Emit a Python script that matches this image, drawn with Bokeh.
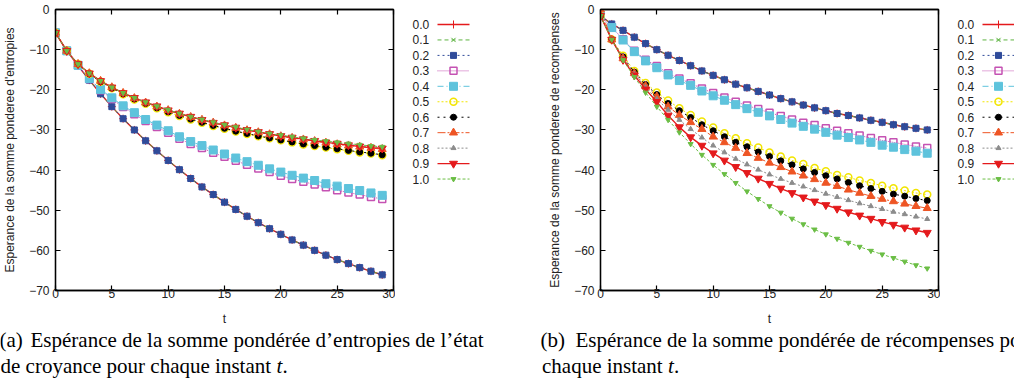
from bokeh.plotting import figure
from bokeh.layouts import row, column
from bokeh.models import Range1d, FixedTicker, LinearAxis
from bokeh.embed import file_html
from bokeh.resources import INLINE
from bokeh.core.properties import value

# ---------------- data ----------------
t = list(range(30))
series_labels = ["0.0", "0.1", "0.2", "0.3", "0.4", "0.5", "0.6", "0.7", "0.8", "0.9", "1.0"]
x_ticks = [0, 5, 10, 15, 20, 25, 30]
y_ticks = [-70, -60, -50, -40, -30, -20, -10, 0]

# (a) weighted sum of entropies
ent_00 = [-5.8, -10.3, -14.0, -17.6, -21.0, -24.2, -27.2, -30.0, -32.7, -35.2, -37.6, -39.9, -42.1, -44.2, -46.1,
          -48.0, -49.8, -51.5, -53.1, -54.6, -56.0, -57.4, -58.7, -60.0, -61.2, -62.3, -63.3, -64.3, -65.2, -66.1]
ent_01 = [-5.8, -10.3, -14.0, -17.6, -21.0, -24.2, -27.2, -30.0, -32.7, -35.2, -37.6, -39.9, -42.1, -44.2, -46.1,
          -48.0, -49.8, -51.5, -53.1, -54.6, -56.0, -57.4, -58.7, -60.0, -61.2, -62.3, -63.3, -64.3, -65.2, -66.1]
ent_02 = [-5.8, -10.3, -14.0, -17.6, -21.0, -24.2, -27.2, -30.0, -32.7, -35.2, -37.6, -39.9, -42.1, -44.2, -46.1,
          -48.0, -49.8, -51.5, -53.1, -54.6, -56.0, -57.4, -58.7, -60.0, -61.2, -62.3, -63.3, -64.3, -65.2, -66.1]
ent_03 = [-5.8, -10.3, -13.9, -17.3, -20.1, -22.3, -24.3, -26.1, -27.8, -29.3, -30.7, -32.2, -33.5, -34.5, -35.7,
          -36.7, -37.7, -38.7, -39.6, -40.5, -41.4, -42.2, -42.9, -43.6, -44.3, -45.0, -45.6, -46.1, -46.7, -47.2]
ent_04 = [-5.8, -10.3, -13.9, -17.2, -19.9, -22.0, -24.0, -25.7, -27.4, -28.8, -30.2, -31.7, -32.9, -33.9, -35.0,
          -36.0, -37.0, -37.9, -38.8, -39.7, -40.5, -41.3, -42.0, -42.6, -43.4, -44.0, -44.6, -45.1, -45.7, -46.3]
ent_05 = [-5.8, -10.3, -13.6, -16.0, -18.0, -19.6, -21.1, -22.4, -23.5, -24.6, -25.6, -26.5, -27.4, -28.2, -29.0,
          -29.7, -30.4, -31.0, -31.6, -32.1, -32.6, -33.1, -33.6, -34.0, -34.4, -34.8, -35.2, -35.6, -35.9, -36.3]
ent_06 = [-5.8, -10.3, -13.6, -16.0, -18.0, -19.6, -21.0, -22.3, -23.4, -24.5, -25.5, -26.4, -27.3, -28.1, -28.9,
          -29.6, -30.3, -30.9, -31.5, -32.0, -32.5, -33.0, -33.5, -33.9, -34.3, -34.7, -35.1, -35.5, -35.8, -36.2]
ent_07 = [-5.8, -10.3, -13.6, -15.9, -17.8, -19.4, -20.8, -22.1, -23.2, -24.2, -25.1, -26.0, -26.8, -27.5, -28.2,
          -28.9, -29.5, -30.1, -30.6, -31.1, -31.6, -32.0, -32.4, -32.8, -33.2, -33.6, -33.9, -34.2, -34.5, -34.8]
ent_08 = [-5.8, -10.3, -13.6, -15.9, -17.8, -19.4, -20.8, -22.0, -23.1, -24.1, -25.0, -25.9, -26.7, -27.4, -28.1,
          -28.8, -29.4, -30.0, -30.5, -31.0, -31.4, -31.8, -32.2, -32.6, -33.0, -33.3, -33.6, -33.9, -34.2, -34.4]
ent_09 = [-5.8, -10.3, -13.6, -15.9, -17.8, -19.4, -20.8, -22.0, -23.1, -24.1, -25.1, -25.9, -26.7, -27.5, -28.2,
          -28.8, -29.4, -30.0, -30.5, -31.0, -31.5, -31.9, -32.3, -32.7, -33.1, -33.4, -33.8, -34.1, -34.4, -34.6]
ent_10 = [-5.8, -10.3, -13.6, -15.9, -17.8, -19.4, -20.8, -22.0, -23.1, -24.1, -25.0, -25.9, -26.7, -27.4, -28.1,
          -28.7, -29.3, -29.9, -30.4, -30.9, -31.3, -31.7, -32.1, -32.5, -32.8, -33.1, -33.4, -33.7, -34.0, -34.2]

# (b) weighted sum of rewards
rec_00 = [-1.6, -3.6, -5.2, -6.9, -8.5, -10.0, -11.4, -12.7, -14.0, -15.3, -16.4, -17.5, -18.6, -19.5, -20.4,
          -21.3, -22.2, -23.0, -23.8, -24.5, -25.2, -25.9, -26.4, -27.0, -27.6, -28.1, -28.7, -29.2, -29.6, -30.0]
rec_01 = [-1.6, -3.6, -5.2, -6.9, -8.5, -10.0, -11.4, -12.7, -14.0, -15.3, -16.4, -17.5, -18.6, -19.5, -20.4,
          -21.3, -22.2, -23.0, -23.8, -24.5, -25.2, -25.9, -26.4, -27.0, -27.6, -28.1, -28.7, -29.2, -29.6, -30.0]
rec_02 = [-1.6, -3.6, -5.2, -6.9, -8.5, -10.0, -11.4, -12.7, -14.0, -15.3, -16.4, -17.5, -18.6, -19.5, -20.4,
          -21.3, -22.2, -23.0, -23.8, -24.5, -25.2, -25.9, -26.4, -27.0, -27.6, -28.1, -28.7, -29.2, -29.6, -30.0]
rec_03 = [-1.6, -4.4, -7.4, -10.3, -12.5, -14.1, -15.9, -17.2, -18.4, -19.7, -20.8, -21.9, -23.0, -23.9, -24.8,
          -25.7, -26.5, -27.4, -28.2, -28.8, -29.6, -30.2, -30.8, -31.4, -32.0, -32.6, -33.1, -33.6, -34.1, -34.5]
rec_04 = [-1.6, -4.5, -7.6, -10.5, -12.8, -14.5, -16.3, -17.7, -18.9, -20.3, -21.5, -22.6, -23.7, -24.7, -25.6,
          -26.5, -27.4, -28.3, -29.1, -29.8, -30.6, -31.3, -31.9, -32.5, -33.1, -33.8, -34.3, -34.9, -35.3, -35.8]
rec_05 = [-1.6, -7.5, -11.5, -15.3, -18.3, -20.7, -22.7, -24.6, -26.3, -27.9, -29.4, -30.8, -32.1, -33.3, -34.4,
          -35.6, -36.6, -37.6, -38.5, -39.5, -40.3, -41.2, -41.8, -42.6, -43.2, -43.9, -44.5, -45.1, -45.7, -46.1]
rec_06 = [-1.6, -7.5, -11.8, -15.6, -18.7, -21.2, -23.4, -25.2, -26.9, -28.7, -30.2, -31.7, -33.1, -34.2, -35.5,
          -36.6, -37.7, -38.7, -39.7, -40.6, -41.4, -42.2, -43.1, -43.9, -44.6, -45.3, -46.0, -46.5, -47.1, -47.6]
rec_07 = [0.0, -7.5, -12.2, -15.9, -19.1, -21.7, -24.2, -26.3, -28.1, -29.8, -31.7, -33.1, -34.5, -35.8, -37.0,
          -38.2, -39.3, -40.4, -41.4, -42.3, -43.2, -44.0, -44.9, -45.7, -46.5, -47.2, -47.8, -48.4, -49.0, -49.5]
rec_08 = [-1.6, -7.5, -12.3, -16.1, -19.4, -22.3, -25.0, -27.5, -29.8, -31.9, -33.9, -35.6, -37.2, -38.6, -39.9,
          -41.1, -42.2, -43.2, -44.1, -45.0, -45.9, -46.7, -47.5, -48.3, -49.0, -49.7, -50.4, -51.0, -51.6, -52.2]
rec_09 = [-1.6, -7.5, -12.5, -16.4, -19.9, -23.0, -26.4, -29.3, -31.8, -33.9, -35.8, -37.6, -39.2, -40.7, -42.1,
          -43.4, -44.6, -45.7, -46.8, -47.8, -48.7, -49.6, -50.5, -51.3, -52.1, -52.9, -53.6, -54.3, -55.0, -55.6]
rec_10 = [-1.6, -7.5, -12.6, -16.8, -20.7, -24.2, -27.5, -30.6, -33.5, -36.2, -38.7, -41.0, -43.2, -45.3, -47.2,
          -49.0, -50.6, -52.1, -53.5, -54.8, -56.0, -57.1, -58.1, -59.1, -60.1, -61.0, -61.9, -62.8, -63.7, -64.5]

ent_series = [ent_00, ent_01, ent_02, ent_03, ent_04, ent_05, ent_06, ent_07, ent_08, ent_09, ent_10]
rec_series = [rec_00, rec_01, rec_02, rec_03, rec_04, rec_05, rec_06, rec_07, rec_08, rec_09, rec_10]

ylabel_a = "Esperance de la somme ponderee d'entropies"
ylabel_b = "Esperance de la somme ponderee de recompenses"
xlabel = "t"

# ---------------- styles ----------------
# color, dash, marker, marker size, fill, line width
STY = [
    ("#E41A1C", "solid", "cross", 8, "#E41A1C", 1.4),
    ("#5DB341", "4 3", "x", 6, "#5DB341", 1.0),
    ("#2F4B9A", "2 3", "square", 6, "#2F4B9A", 1.0),
    ("#C552B3", "1 1", "square", 7, None, 1.0),
    ("#5EC3DC", "6 3 1 3", "square", 8, "#5EC3DC", 1.0),
    ("#F2E500", "2 2", "circle", 7, None, 1.0),
    ("#000000", "2 4", "circle", 6, "#000000", 1.0),
    ("#EE5524", "8 2 2 2", "triangle", 8, "#EE5524", 1.0),
    ("#8C8C8C", "2 2", "triangle", 5, "#8C8C8C", 1.0),
    ("#E41A1C", "solid", "inverted_triangle", 8, "#E41A1C", 1.4),
    ("#6BBE45", "3 2", "inverted_triangle", 5, "#6BBE45", 1.0),
]

SANS = "Liberation Sans"
SERIF = "Liberation Serif"
TXT = "#222222"
H = 328


def style_axis(ax, labels=True):
    ax.major_tick_in = 5
    ax.major_tick_out = 0
    ax.minor_tick_line_color = None
    ax.axis_line_color = "black"
    ax.axis_line_width = 1.3
    ax.major_tick_line_color = "black"
    ax.major_tick_line_width = 1.2
    ax.major_label_text_font = SANS
    if labels:
        ax.major_label_text_color = TXT
        ax.major_label_text_font_size = "12px"
    else:
        ax.major_label_text_color = None
        ax.major_label_text_font_size = "0px"
        ax.major_label_standoff = 0


def make_plot(series, ylabel):
    p = figure(width=395, height=H, x_range=Range1d(0, 30), y_range=Range1d(-70, 0), title=None,
               min_border_left=55, min_border_right=2, min_border_top=9, min_border_bottom=37,
               output_backend="svg", toolbar_location=None)
    p.grid.visible = False
    p.outline_line_color = "black"
    p.outline_line_width = 1.3
    p.background_fill_color = "white"
    p.border_fill_color = "white"

    p.xaxis.ticker = FixedTicker(ticks=x_ticks)
    p.yaxis.ticker = FixedTicker(ticks=y_ticks)
    for ax in (p.xaxis[0], p.yaxis[0]):
        style_axis(ax)
    p.xaxis.major_label_standoff = -2
    p.yaxis.major_label_standoff = 6
    p.xaxis.axis_label = xlabel
    p.yaxis.axis_label = ylabel
    for ax in (p.xaxis[0], p.yaxis[0]):
        ax.axis_label_text_font = SANS
        ax.axis_label_text_font_size = "12px"
        ax.axis_label_text_font_style = "normal"
        ax.axis_label_text_color = TXT
    p.xaxis.axis_label_standoff = 11
    p.yaxis.axis_label_standoff = 9

    top = LinearAxis(ticker=FixedTicker(ticks=x_ticks))
    style_axis(top, labels=False)
    p.add_layout(top, "above")
    right = LinearAxis(ticker=FixedTicker(ticks=y_ticks))
    style_axis(right, labels=False)
    p.add_layout(right, "right")

    for vals, (col, dash, mk, sz, fill, lw) in zip(series, STY):
        p.line(t, vals, line_color=col, line_dash=dash, line_width=lw)
        p.scatter(t, vals, marker=mk, size=sz, line_color=col, fill_color=fill,
                  line_width=1.5 if fill is None else 1.0)
    return p


def bare_figure(width, height, xr, yr):
    f = figure(width=width, height=height, x_range=xr, y_range=yr, title=None,
               min_border=0, x_axis_location=None, y_axis_location=None,
               output_backend="svg", toolbar_location=None)
    f.grid.visible = False
    f.outline_line_color = None
    f.background_fill_color = "white"
    f.border_fill_color = "white"
    return f


def make_legend(width):
    lg = bare_figure(width, H, Range1d(0, width), Range1d(H, 0))
    n = len(series_labels)
    ys = [17.5 + 18.04 * i for i in range(n)]
    lg.text(x=[17] * n, y=ys, text=series_labels, text_font=value(SANS), text_font_size="12px",
            text_color=TXT, text_baseline="middle", text_align="left")
    for i, (col, dash, mk, sz, fill, lw) in enumerate(STY):
        lg.segment(x0=[42], y0=[ys[i]], x1=[74], y1=[ys[i]], line_color=col, line_dash=dash, line_width=lw)
        lg.scatter(x=[58], y=[ys[i]], marker=mk, size=sz, line_color=col, fill_color=fill,
                   line_width=1.5 if fill is None else 1.0)
    return lg


pa = make_plot(ent_series, ylabel_a)
la = make_legend(150)
pb = make_plot(rec_series, ylabel_b)
lb = make_legend(74)

# captions
cap = bare_figure(1014, 50, Range1d(0, 1014), Range1d(50, 0))
L1, L2 = 11.0, 37.6
cap_kw = dict(text_font=value(SERIF), text_font_size="21px", text_color="black",
              text_baseline="alphabetic", text_align="left")
cap.text(x=[-1, 30, 0, 540, 575, 541.5],
         y=[L1, L1, L2, L1, L1, L2],
         text=["(a)", "Espérance de la somme pondérée d’entropies de l’état",
               "de croyance pour chaque instant",
               "(b)", "Espérance de la somme pondérée de récompenses pour",
               "chaque instant"], **cap_kw)
cap.text(x=[276, 667.5], y=[L2, L2], text=["t", "t"], text_font_style="italic", **cap_kw)
cap.text(x=[282, 673.5], y=[L2, L2], text=[".", "."], **cap_kw)

layout = column(row(pa, la, pb, lb, spacing=0), cap, spacing=0)

with open("out.html", "w") as f:
    f.write(file_html(layout, INLINE))
